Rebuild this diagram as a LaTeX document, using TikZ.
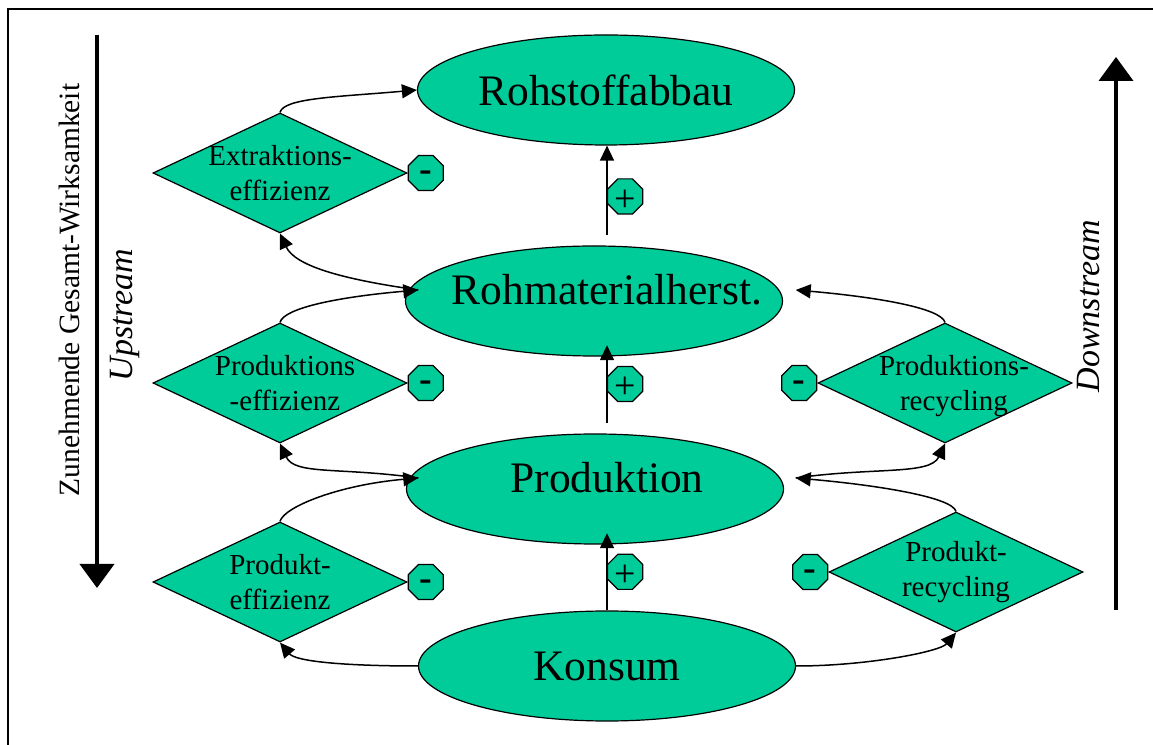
\documentclass[tikz,border=0pt]{standalone}
\usepackage{fontspec}
\setmainfont{Liberation Serif}
\usetikzlibrary{arrows.meta,shapes.geometric}
\definecolor{pptgreen}{RGB}{0,204,153}
\newcommand{\plussign}{\raisebox{-15pt}[0pt][0pt]{+}}
\newcommand{\minussign}{\raisebox{-8.5pt}[0pt][0pt]{\textbf{-}}}

\begin{document}
\begin{tikzpicture}[x=1pt, y=1pt,
    stage/.style={ellipse, inner sep=0pt, minimum width=377pt, minimum height=110pt},
    stagefill/.style={stage, fill=pptgreen, draw=black, line width=1.2pt},
    stagetext/.style={font=\fontsize{43.5}{50}\selectfont},
    lever/.style={diamond, fill=pptgreen, draw=black, line width=1.2pt, inner sep=0pt, minimum width=254pt, minimum height=120pt},
    levertext/.style={align=center, font=\fontsize{29}{35}\selectfont},
    signbox/.style={regular polygon, regular polygon sides=8, minimum size=38pt, inner sep=0pt, fill=pptgreen, draw=black, line width=1.2pt, font=\fontsize{38}{40}\selectfont},
    link/.style={line width=1.5pt, -{Triangle[length=15pt,width=14pt]}},
    flow/.style={line width=4pt, -{Triangle[length=24pt,width=34pt]}},
    sidetext/.style={rotate=90, font=\itshape\fontsize{34}{40}\selectfont}]
    \useasboundingbox (0,0) rectangle (1153,744);
    \draw[line width=2pt] (8,734.5) rectangle (1175,-20);

    % Upstream / Downstream
    \coordinate (usTop) at (97,709);
    \coordinate (usBot) at (97,156);
    \coordinate (dsBot) at (1116,134);
    \coordinate (dsTop) at (1116,687);
    \draw[flow] (usTop) -- (usBot);
    \draw[flow] (dsBot) -- (dsTop);
    \node[rotate=90, font=\fontsize{29.5}{34}\selectfont] (total) at (69,454) {Zunehmende Gesamt-Wirksamkeit};
    \node[sidetext] (up) at (125,429) {Upstream};
    \node[sidetext] (down) at (1089,438) {Downstream};

    % stages
    \node[stagefill, label={[stagetext]center:Rohstoffabbau}] (ro) at (606,654) {};
    \node[stagefill] (rmfill) at (594,443) {};
    \node[stage, label={[stagetext]center:Rohmaterialherst.}] (rm) at (607,454) {};
    \node[stagefill] (prfill) at (595,255) {};
    \node[stage, label={[stagetext]center:Produktion}] (pr) at (607,266) {};
    \node[stagefill, label={[stagetext]center:Konsum}] (ko) at (607,78) {};

    % efficiency and recycling
    \node[lever, label={[levertext]center:Extraktions-\\effizienz}] (ex) at (280,571) {};
    \node[lever, label={[levertext, xshift=5pt]center:Produktions\\-effizienz}] (pe) at (280,361) {};
    \node[lever, label={[levertext]center:Produkt-\\effizienz}] (pk) at (280,162) {};
    \node[lever, label={[levertext, xshift=9pt, yshift=-3pt]center:Produktions-\\recycling}] (pc) at (945,361) {};
    \node[lever, label={[levertext]center:Produkt-\\recycling}] (pq) at (956,172) {};

    \node[signbox, anchor=west] (exm) at (ex.east) {\minussign};
    \node[signbox, anchor=west] (pem) at (pe.east) {\minussign};
    \node[signbox, anchor=west] (pkm) at (pk.east) {\minussign};
    \node[signbox, anchor=east] (pcm) at (pc.west) {\minussign};
    \node[signbox, anchor=east] (pqm) at (pq.west) {\minussign};

    % chain upwards
    \draw[link] (rm.north) -- node[signbox, pos=.43, anchor=west] (rmp) {\plussign} (rm.north |- ro.south);
    \draw[link] (pr.north) -- node[signbox, pos=.5, anchor=west] (prp) {\plussign} (rm.south);
    \draw[link] (ko.north) -- node[signbox, pos=.5, anchor=west] (kop) {\plussign} (pr.south);

    % left loops
    \draw[link] (ex.north) to[out=75, in=185, out distance=15pt, in distance=80pt] (ro.west);
    \draw[link] (rm.west) to[out=172, in=-65, out distance=80pt, in distance=35pt] (ex.south);
    \draw[link] (pe.north) to[out=75, in=185, out distance=15pt, in distance=80pt] (rm.west);
    \draw[link] (pr.west) to[out=172, in=-65, out distance=80pt, in distance=35pt] (pe.south);
    \draw[link] (pk.north) to[out=75, in=185, out distance=15pt, in distance=80pt] (pr.west);
    \draw[link] (ko.west) to[out=180, in=-50, out distance=70pt, in distance=25pt] (pk.south);

    % right loops
    \draw[link] (pc.north) to[out=105, in=-5, out distance=15pt, in distance=80pt] (rm.east);
    \draw[link] (pr.east) to[out=8, in=-115, out distance=80pt, in distance=35pt] (pc.south);
    \draw[link] (pq.north) to[out=105, in=-5, out distance=15pt, in distance=80pt] (pr.east);
    \draw[link] (ko.east) to[out=0, in=-130, out distance=70pt, in distance=25pt] (pq.south);
\end{tikzpicture}
\end{document}
